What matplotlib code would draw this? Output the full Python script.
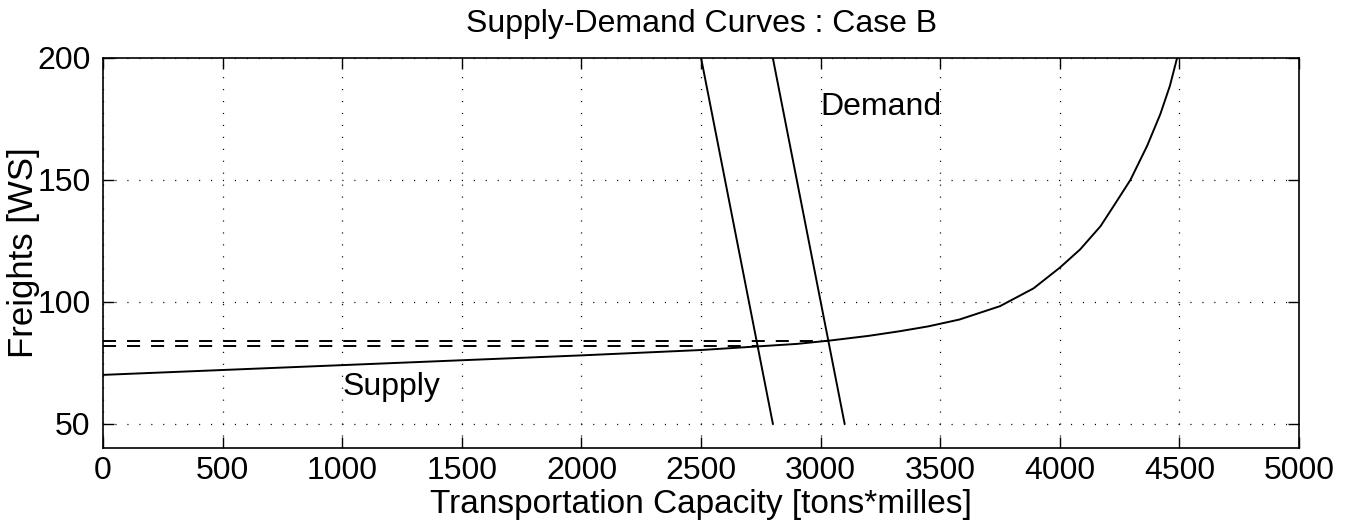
import numpy as np
import matplotlib.pyplot as plt

plt.rcParams['font.family'] = ['Liberation Sans', 'DejaVu Sans']
plt.rcParams['lines.scale_dashes'] = False

# supply curve
supply_x = [0, 500, 1000, 1500, 2000, 2500, 2900, 3040, 3200, 3330, 3450, 3580,
            3750, 3890, 4000, 4085, 4170, 4225, 4295, 4365, 4420, 4460, 4490]
supply_y = [70, 72, 74, 76, 78, 80.2, 82.7, 84.1, 86, 87.9, 89.9, 92.7,
            98.2, 105.5, 114, 121.5, 131, 139.3, 150, 164, 177, 188.6, 200]

# two demand lines
demand1_x = [2500, 2800]
demand1_y = [200, 50]
demand2_x = [2800, 3100]
demand2_y = [200, 50]

# equilibrium prices (dashed)
eq_x = [2740, 3030]
eq_y = [82, 84]

fig = plt.figure(figsize=(13.49, 5.31), dpi=100)
ax = fig.add_axes([0.0764, 0.1563, 0.8866, 0.7345])

ax.plot(supply_x, supply_y, color='black', lw=1.4)
ax.plot(demand1_x, demand1_y, color='black', lw=1.4)
ax.plot(demand2_x, demand2_y, color='black', lw=1.4)
for xe, ye in zip(eq_x, eq_y):
    ax.plot([0, xe], [ye, ye], color='black', lw=1.4, dashes=(9.4, 7.9))

ax.text(1000, 65, 'Supply', fontsize=23, va='center', ha='left')
ax.text(3000, 180, 'Demand', fontsize=23, va='center', ha='left')

ax.set_xlim(0, 5000)
ax.set_ylim(40, 200)
ax.set_xticks(np.arange(0, 5001, 500))
ax.set_yticks([50, 100, 150, 200])

ax.grid(True, color='black', lw=0.9, dashes=(0.8, 7.8))
ax.tick_params(direction='in', length=8, width=1, top=True, right=True,
               labelsize=23)
ax.tick_params(axis='x', pad=6)
ax.tick_params(axis='y', pad=9)
for s in ax.spines.values():
    s.set_linewidth(1.2)

ax.set_title('Supply-Demand Curves : Case B', fontsize=23, pad=19)
ax.set_xlabel('Transportation Capacity [tons*milles]', fontsize=24, labelpad=2)
ax.set_ylabel('Freights [WS]', fontsize=25, labelpad=-2)

plt.savefig('out.png')
